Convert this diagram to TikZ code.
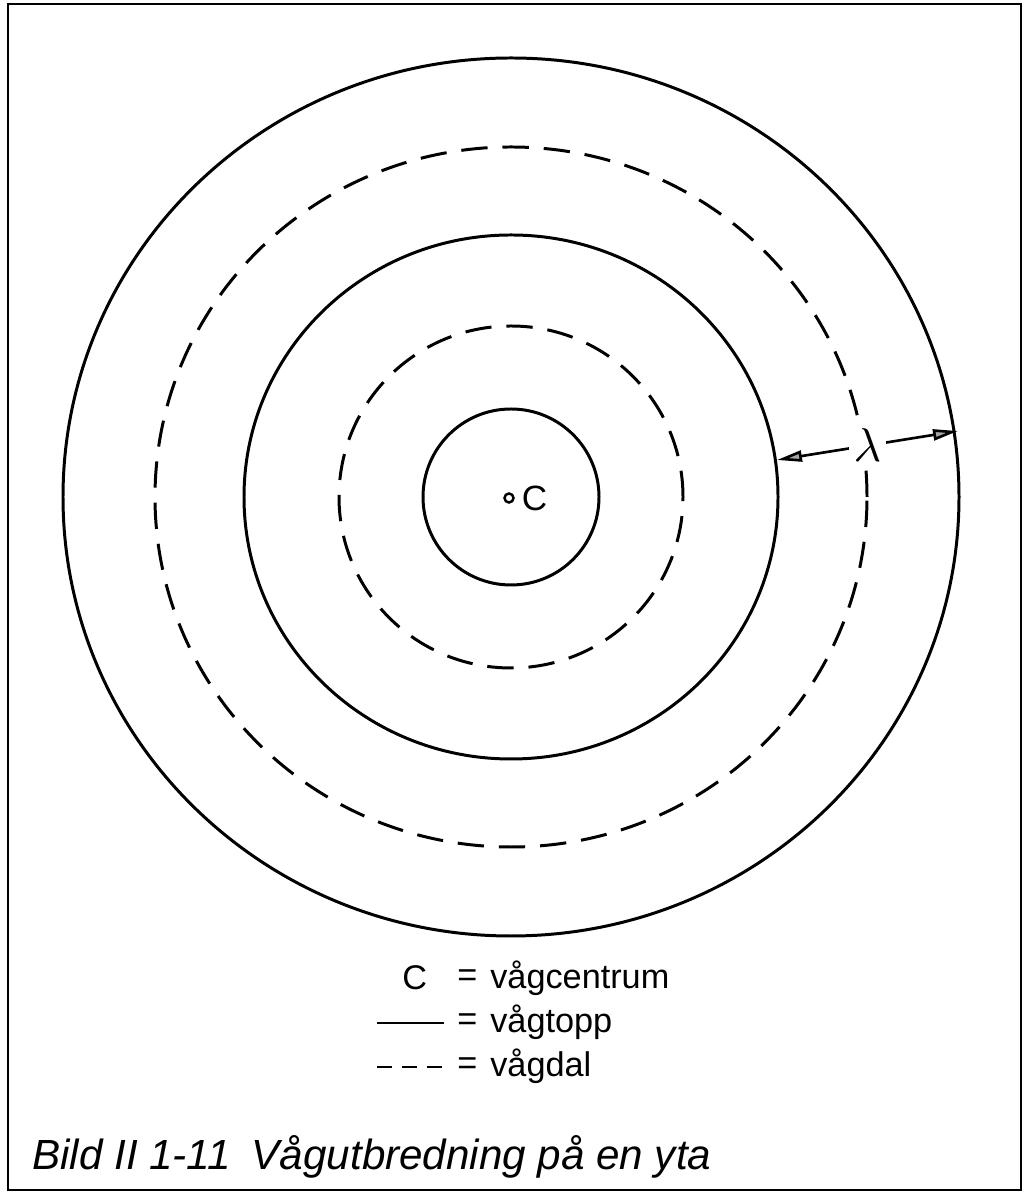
\documentclass[tikz,border=0pt]{standalone}
\usepackage{fontspec}
\setmainfont{Liberation Sans}
\usepackage{tikz}
\usetikzlibrary{arrows.meta,positioning}

\begin{document}
\begin{tikzpicture}[x=0.02cm,y=0.02cm,>={Triangle[length=0.5cm,width=0.22cm,fill=gray!70]}]
\tikzstyle{crest}=[line width=1.7pt]
\tikzstyle{trough}=[line width=1.7pt,dash pattern=on 15pt off 8.5pt]
\tikzstyle{lgd}=[anchor=west,inner sep=0pt,font=\fontsize{19.5}{22}\selectfont]
\useasboundingbox (0,0) rectangle (1026,1193);
\draw[line width=1.5pt] (8,3) rectangle (1021,1189);
% wave rings around the centre
\coordinate (ctr) at (511,696);
\draw[crest] (ctr) ellipse [x radius=88,y radius=88];
\draw[trough] (ctr) ellipse [x radius=172,y radius=171];
\draw[crest] (ctr) ellipse [x radius=267,y radius=262];
\draw[trough] (ctr) ellipse [x radius=356,y radius=350];
\draw[crest] (ctr) ellipse [x radius=448,y radius=439];
\node[circle,draw,line width=1.4pt,inner sep=0pt,minimum size=0.18cm] (c) at (509,695) {};
\node[right=0.02cm of c,font=\fontsize{20}{22}\selectfont] (clbl) {C};
% wavelength
\coordinate (l1) at (777,733);
\coordinate (l2) at (958,762);
\draw[<->,line width=1.5pt] (l1) -- node[fill=white,inner sep=1pt,scale=2.7] (lam) {$\lambda$} (l2);
% legend
\node[lgd] (k1) at (402,215) {C};
\node[lgd] (e1) at (457,215) {=};
\node[lgd] (t1) at (490,215) {vågcentrum};
\coordinate (s1) at (377,170);
\coordinate (s2) at (444,170);
\node[lgd] (e2) at (457,171) {=};
\node[lgd] (t2) at (490,171) {vågtopp};
\draw[line width=1.3pt] (s1) -- (s2);
\coordinate (d1) at (377,126);
\coordinate (d2) at (446,126);
\node[lgd] (e3) at (457,127) {=};
\node[lgd] (t3) at (490,127) {vågdal};
\draw[line width=1.3pt,dash pattern=on 8.5pt off 5.7pt] (d1) -- (d2);
% caption
\node[anchor=base west,inner sep=0pt,font=\itshape\fontsize{24}{26}\selectfont] (cap) at (32,23) {Bild II 1-11\hspace{0.5em}Vågutbredning på en yta};
\end{tikzpicture}
\end{document}
